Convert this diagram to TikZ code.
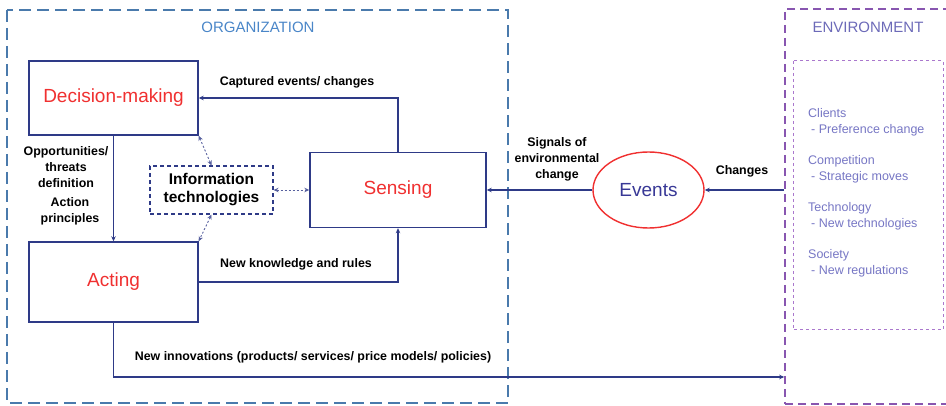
\documentclass[tikz,border=0pt]{standalone}
\usepackage{fontspec}
\setmainfont{Liberation Sans}
\usetikzlibrary{arrows.meta,shapes.geometric}
\usepackage{xcolor}
\definecolor{orgBlue}{RGB}{74,122,172}
\definecolor{orgTitle}{RGB}{74,134,200}
\definecolor{envPurple}{RGB}{136,86,176}
\definecolor{envDot}{RGB}{170,120,205}
\definecolor{envTitle}{RGB}{108,106,184}
\definecolor{envText}{RGB}{118,118,196}
\definecolor{lineNavy}{RGB}{46,58,135}
\definecolor{stageRed}{RGB}{240,48,48}
\definecolor{eventBlue}{RGB}{56,56,150}

\begin{document}
\begin{tikzpicture}[x=1pt,y=-1pt,
    stagebox/.style={draw=lineNavy,line width=1.4pt,fill=white,text=stageRed,
        font=\fontsize{19}{22}\selectfont},
    itbox/.style={draw=lineNavy,line width=1.1pt,dash pattern=on 4pt off 3pt,
        align=center,font=\fontsize{15.5}{18}\selectfont\bfseries},
    flow/.style={draw=lineNavy,line width=1.4pt,-{Stealth[length=5pt,width=4.5pt]}},
    itlink/.style={draw=lineNavy!80,line width=0.9pt,dash pattern=on 2pt off 2pt,
        {Stealth[length=5pt,width=4.5pt]}-{Stealth[length=5pt,width=4.5pt]}},
    lbl/.style={align=center,inner sep=1pt,font=\fontsize{12.4}{16}\selectfont\bfseries},
    envitem/.style={anchor=west,align=left,inner sep=0pt,text=envText,
        font=\fontsize{12.5}{16}\selectfont}]
    \useasboundingbox (0,0) rectangle (946,406);
    % frames
    \draw[orgBlue,line width=1.8pt,dash pattern=on 12pt off 6pt] (7,10) rectangle (508,403);
    \node[text=orgTitle,font=\fontsize{15}{18}\selectfont] (orgtitle) at (258,27) {ORGANIZATION};
    \node[draw=envPurple,line width=1.6pt,dash pattern=on 8pt off 5pt,
        minimum width=165pt,minimum height=395pt] (env) at (867.5,206.5) {};
    \node[text=envTitle,font=\fontsize{15}{18}\selectfont] (envtitle) at (868,27) {ENVIRONMENT};
    \draw[envDot,line width=1pt,dash pattern=on 3pt off 3pt] (793,61) rectangle (943,330);
    % environment drivers
    \node[envitem] (clients) at (808,122) {Clients\\\hspace*{3pt}- Preference change};
    \node[envitem] (competition) at (808,169) {Competition\\\hspace*{3pt}- Strategic moves};
    \node[envitem] (technology) at (808,216) {Technology\\\hspace*{3pt}- New technologies};
    \node[envitem] (society) at (808,263) {Society\\\hspace*{3pt}- New regulations};
    % stages
    \node[stagebox,minimum width=169pt,minimum height=74pt] (decision) at (113.5,98) {Decision-making};
    \node[stagebox,minimum width=169pt,minimum height=80pt] (acting) at (113.5,282) {Acting};
    \node[stagebox,minimum width=176pt,minimum height=75pt] (sensing) at (398,190) {Sensing};
    \node[itbox,minimum width=123pt,minimum height=48pt] (info) at (211.5,190) {Information\\technologies};
    \node[ellipse,draw=stageRed,line width=1.4pt,minimum width=111pt,minimum height=76pt,
        text=eventBlue,font=\fontsize{19}{22}\selectfont] (events) at (648.5,190) {Events};
    \coordinate (outlet) at (0,377);
    % connectors
    \draw[flow] (sensing.north) |- (decision.east);
    \draw[flow] (decision) -- (acting);
    \draw[flow] (acting.east) -| (sensing.south);
    \draw[flow] (events) -- (sensing);
    \draw[flow] (env.west |- events) -- (events);
    \draw[flow] (acting.south) |- (env.west |- outlet);
    \draw[itlink] (decision.south east) -- (info.north);
    \draw[itlink] (info.south) -- (acting.north east);
    \draw[itlink] (info.east) -- (sensing.west);
    % labels
    \node[lbl] (captured) at (297,82) {Captured events/ changes};
    \node[lbl] (knowledge) at (296,264) {New knowledge and rules};
    \node[lbl] (threats) at (66,167) {Opportunities/\\threats\\definition};
    \node[lbl] (principles) at (70,211) {Action\\principles};
    \node[lbl] (signals) at (557,159) {Signals of\\environmental\\change};
    \node[lbl] (changes) at (742,171) {Changes};
    \node[lbl] (innovations) at (313,357) {New innovations (products/ services/ price models/ policies)};
\end{tikzpicture}
\end{document}
